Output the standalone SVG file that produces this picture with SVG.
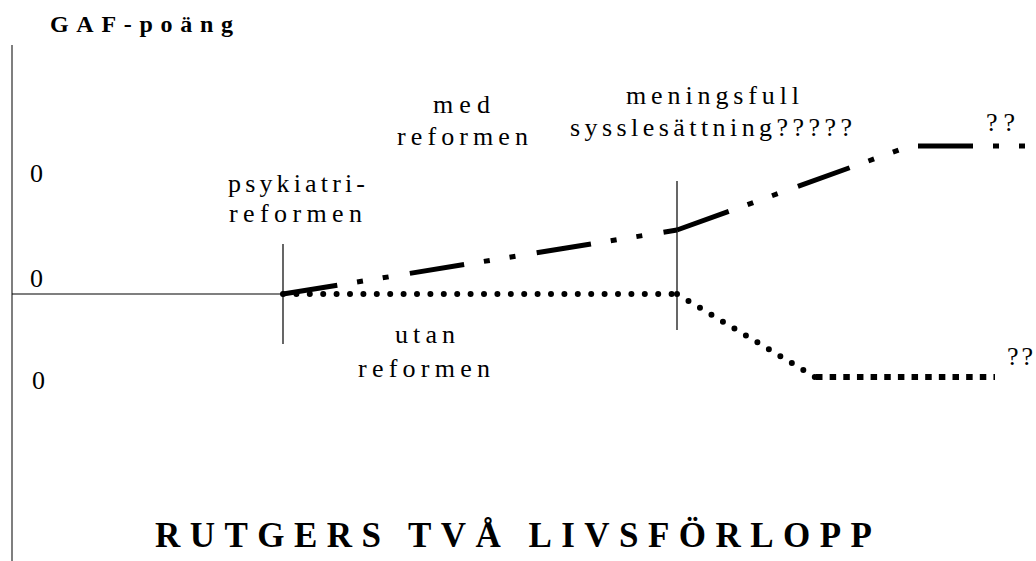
<svg xmlns="http://www.w3.org/2000/svg" width="1036" height="561" viewBox="0 0 1036 561">
<style>
  .lbl { font-family: 'Liberation Serif', 'Times New Roman', serif; font-size: 26px; fill: #000; }
  .hdr { font-family: 'Liberation Serif', 'Times New Roman', serif; font-weight: bold; fill: #000; }
  .axis { stroke: #555; stroke-width: 1.5; fill: none; }
  .thin { stroke: #000; stroke-width: 1.2; fill: none; }
  .med { stroke: #000; stroke-width: 5; fill: none; stroke-dasharray: 55 20 6 20 6 21.5; }
  .utan { stroke: #000; stroke-width: 6; fill: none; stroke-linecap: round; stroke-dasharray: 0 13.4; }
  .utanSq { stroke: #000; stroke-width: 6; fill: none; stroke-dasharray: 6.5 7.15; }
</style>
<rect width="1036" height="561" fill="#fff"/>

<g id="axes">
  <line class="axis" x1="12" y1="45" x2="12" y2="561"/>
  <line class="thin" x1="12" y1="294" x2="283" y2="294"/>
  <line class="thin" x1="283" y1="244" x2="283" y2="344"/>
  <line class="thin" x1="677" y1="181" x2="677" y2="330"/>
</g>

<g id="connectors">
  <line class="med" x1="283" y1="294" x2="677" y2="230"/>
  <line class="med" x1="677" y1="230" x2="910" y2="146"/>
  <line class="med" x1="918" y1="146" x2="1040" y2="146"/>
  <line class="utan" x1="283" y1="294" x2="677" y2="294"/>
  <line class="utan" x1="677" y1="294" x2="815" y2="377"/>
  <line class="utanSq" x1="816" y1="377" x2="995" y2="377"/>
</g>

<g id="ylabel"><text class="hdr" x="50" y="32" font-family="Liberation Serif" font-size="24" textLength="183" lengthAdjust="spacing">GAF-poäng</text></g>
<g id="tick-high"><text class="lbl" x="30" y="182" font-family="Liberation Serif">0</text></g>
<g id="tick-mid"><text class="lbl" x="30" y="287" font-family="Liberation Serif">0</text></g>
<g id="tick-low"><text class="lbl" x="32" y="389" font-family="Liberation Serif">0</text></g>

<g id="psykiatrireformen">
  <text class="lbl" x="228" y="192" font-family="Liberation Serif" textLength="137" lengthAdjust="spacing">psykiatri-</text>
  <text class="lbl" x="229" y="222" font-family="Liberation Serif" textLength="133" lengthAdjust="spacing">reformen</text>
</g>
<g id="med-reformen">
  <text class="lbl" x="433" y="113" font-family="Liberation Serif" textLength="57" lengthAdjust="spacing">med</text>
  <text class="lbl" x="397" y="145" font-family="Liberation Serif" textLength="131" lengthAdjust="spacing">reformen</text>
</g>
<g id="meningsfull">
  <text class="lbl" x="626" y="104" font-family="Liberation Serif" textLength="173" lengthAdjust="spacing">meningsfull</text>
  <text class="lbl" x="570" y="136" font-family="Liberation Serif" textLength="282" lengthAdjust="spacing">sysslesättning?????</text>
</g>
<g id="q-top"><text class="lbl" x="986" y="131" font-family="Liberation Serif" textLength="29" lengthAdjust="spacing">??</text></g>
<g id="utan-reformen">
  <text class="lbl" x="395" y="343" font-family="Liberation Serif" textLength="60" lengthAdjust="spacing">utan</text>
  <text class="lbl" x="358" y="377" font-family="Liberation Serif" textLength="132" lengthAdjust="spacing">reformen</text>
</g>
<g id="q-bottom"><text class="lbl" x="1007" y="365" font-family="Liberation Serif" textLength="26" lengthAdjust="spacing">??</text></g>

<g id="title"><text class="hdr" x="155" y="547" font-family="Liberation Serif" font-size="35" textLength="717" lengthAdjust="spacing">RUTGERS TVÅ LIVSFÖRLOPP</text></g>
</svg>
